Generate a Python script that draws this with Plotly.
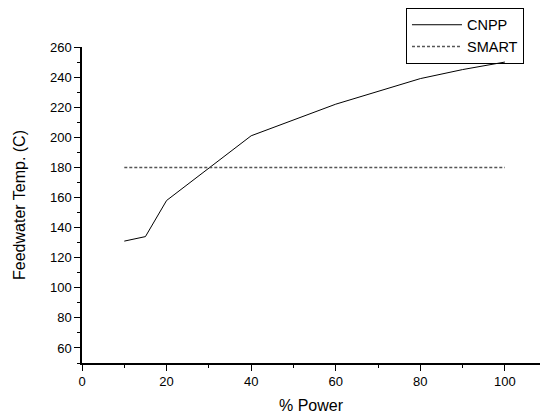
import plotly.graph_objects as go

power_pct = [10, 15, 20, 40, 60, 80, 90, 100]
cnpp_temp = [131, 134, 158, 201, 222, 239, 245, 250]
smart_power = [10, 100]
smart_temp = [180, 180]

fig = go.Figure()
fig.add_trace(go.Scatter(x=power_pct, y=cnpp_temp, mode="lines", name="CNPP",
                         line=dict(color="black", width=1)))
fig.add_trace(go.Scatter(x=smart_power, y=smart_temp, mode="lines", name="SMART",
                         line=dict(color="#555555", width=1.5, dash="3px,2px")))

font = "Liberation Sans, Arial, sans-serif"
fig.update_layout(
    width=540, height=414,
    margin=dict(l=82, r=0, t=47, b=51),
    paper_bgcolor="white", plot_bgcolor="white",
    font=dict(family=font, color="black", size=13),
    showlegend=True,
    legend=dict(x=0.965, y=1.124, xanchor="right", yanchor="top",
                bordercolor="black", borderwidth=1, bgcolor="rgba(255,255,255,0)",
                font=dict(size=14.5, family=font), tracegroupgap=0,
                itemwidth=50),
)
fig.update_xaxes(
    range=[0, 108.3], tick0=0, dtick=20, ticks="outside", ticklen=6, tickwidth=1,
    tickcolor="black", showline=True, linecolor="black", linewidth=1.5,
    showgrid=False, zeroline=False, automargin=False,
    minor=dict(dtick=10, ticks="outside", ticklen=3, tickcolor="black"),
    title=dict(text="% Power", font=dict(size=16), standoff=12),
    tickfont=dict(size=13),
)
fig.update_yaxes(
    range=[50, 260], tick0=60, dtick=20, ticks="outside", ticklen=6, tickwidth=1,
    tickcolor="black", showline=True, linecolor="black", linewidth=1.5,
    showgrid=False, zeroline=False, automargin=False,
    minor=dict(dtick=10, tick0=50, ticks="outside", ticklen=3, tickcolor="black"),
    title=dict(text="Feedwater Temp. (C)", font=dict(size=16), standoff=20),
    tickfont=dict(size=13),
)
fig.write_html("out.html", config={"displayModeBar": False},
               post_script="document.body.style.margin='0';document.body.style.overflow='hidden';")
